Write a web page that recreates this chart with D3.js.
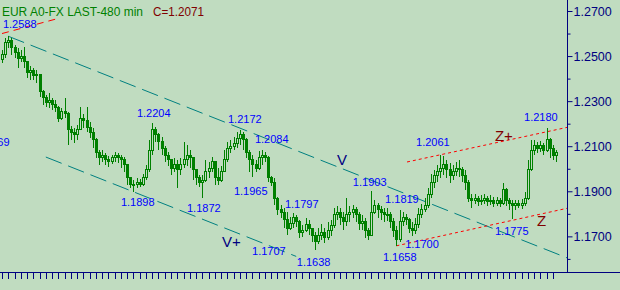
<!DOCTYPE html>
<html>
<head>
<meta charset="utf-8">
<script src="https://cdn.jsdelivr.net/npm/d3@7"></script>
<style>
html, body { margin: 0; padding: 0; background: #c0dcc0; }
svg { display: block; font-family: "Liberation Sans", Arial, sans-serif; }
</style>
</head>
<body>
<div id="chart"></div>
<script>
// --- EUR A0-FX, 480 min bars (open = previous close) ---
const firstOpen = 1.2483;

const closes = [
  1.2505,1.2562,1.2571,1.2536,1.2518,1.2491,1.2500,1.2474,1.2429,1.2438,
  1.2412,1.2420,1.2341,1.2314,1.2296,1.2305,1.2287,1.2270,1.2225,1.2252,
  1.2243,1.2172,1.2163,1.2150,1.2172,1.2225,1.2216,1.2181,1.2163,1.2128,
  1.2074,1.2048,1.2061,1.2039,1.2030,1.2048,1.2057,1.2048,1.2039,1.2017,
  1.1959,1.1932,1.1928,1.1941,1.1932,1.1959,1.1995,1.2083,1.2172,1.2150,
  1.2119,1.2092,1.2061,1.2039,1.2003,1.2017,1.1995,1.2017,1.2039,1.2061,
  1.2048,1.1995,1.1959,1.1941,1.1950,1.1986,1.2003,1.2030,1.1959,1.1950,
  1.1986,1.2039,1.2092,1.2097,1.2114,1.2136,1.2150,1.2128,1.2074,1.2039,
  1.2017,1.2003,1.2048,1.2061,1.2052,1.1959,1.1941,1.1870,1.1817,1.1808,
  1.1773,1.1737,1.1755,1.1782,1.1764,1.1719,1.1728,1.1751,1.1737,1.1702,
  1.1675,1.1706,1.1719,1.1693,1.1728,1.1746,1.1795,1.1808,1.1782,1.1764,
  1.1795,1.1808,1.1817,1.1795,1.1755,1.1764,1.1728,1.1706,1.1808,1.1839,
  1.1817,1.1808,1.1795,1.1799,1.1764,1.1728,1.1684,1.1764,1.1782,1.1773,
  1.1737,1.1728,1.1751,1.1795,1.1817,1.1839,1.1884,1.1941,1.1968,1.1986,
  1.2003,1.2017,1.1995,1.1972,1.1986,1.2003,1.1995,1.1972,1.1941,1.1870,
  1.1861,1.1870,1.1853,1.1861,1.1870,1.1853,1.1861,1.1848,1.1857,1.1844,
  1.1906,1.1861,1.1844,1.1835,1.1848,1.1839,1.1844,1.1870,1.1995,1.2083,
  1.2105,1.2092,1.2101,1.2083,1.2128,1.2092,1.2061,1.2071
];

const highs = [
  1.2527,1.2580,1.2588,1.2580,1.2549,1.2536,1.2527,1.2540,1.2478,1.2456,
  1.2447,1.2438,1.2420,1.2349,1.2327,1.2336,1.2314,1.2305,1.2278,1.2270,
  1.2314,1.2252,1.2190,1.2181,1.2194,1.2274,1.2243,1.2274,1.2208,1.2181,
  1.2136,1.2083,1.2083,1.2070,1.2057,1.2061,1.2074,1.2070,1.2061,1.2052,
  1.2017,1.1959,1.1950,1.1959,1.1954,1.1977,1.2017,1.2128,1.2204,1.2185,
  1.2159,1.2141,1.2101,1.2074,1.2039,1.2048,1.2039,1.2048,1.2119,1.2105,
  1.2083,1.2048,1.1995,1.1972,1.1972,1.2039,1.2030,1.2052,1.2035,1.2003,
  1.2012,1.2083,1.2119,1.2128,1.2141,1.2163,1.2172,1.2163,1.2136,1.2083,
  1.2061,1.2039,1.2079,1.2084,1.2074,1.2057,1.1968,1.1959,1.1875,1.1839,
  1.1826,1.1808,1.1786,1.1804,1.1797,1.1773,1.1751,1.1782,1.1773,1.1737,
  1.1719,1.1737,1.1755,1.1737,1.1764,1.1773,1.1826,1.1835,1.1826,1.1808,
  1.1870,1.1835,1.1839,1.1830,1.1808,1.1795,1.1782,1.1737,1.1903,1.1861,
  1.1848,1.1835,1.1826,1.1826,1.1808,1.1782,1.1746,1.1819,1.1808,1.1799,
  1.1782,1.1764,1.1782,1.1826,1.1844,1.1870,1.1915,1.1977,1.1995,1.2017,
  1.2061,1.2057,1.2039,1.2026,1.2017,1.2030,1.2039,1.2008,1.1995,1.1950,
  1.1888,1.1888,1.1879,1.1884,1.1888,1.1879,1.1884,1.1875,1.1875,1.1870,
  1.1937,1.1915,1.1870,1.1861,1.1861,1.1861,1.1866,1.1897,1.2039,1.2128,
  1.2128,1.2119,1.2123,1.2114,1.2180,1.2136,1.2105,1.2083
];

const lows = [
  1.2469,1.2491,1.2536,1.2505,1.2491,1.2447,1.2474,1.2447,1.2403,1.2394,
  1.2394,1.2380,1.2318,1.2283,1.2274,1.2270,1.2261,1.2252,1.2208,1.2216,
  1.2225,1.2105,1.2128,1.2114,1.2128,1.2172,1.2181,1.2163,1.2136,1.2092,
  1.2048,1.2017,1.2030,1.2017,1.2008,1.2021,1.2030,1.2026,1.2003,1.1986,
  1.1928,1.1915,1.1898,1.1915,1.1919,1.1924,1.1950,1.1986,1.2061,1.2119,
  1.2083,1.2061,1.2030,1.2012,1.1972,1.1986,1.1915,1.1972,1.2003,1.2012,
  1.2003,1.1950,1.1928,1.1919,1.1872,1.1941,1.1959,1.1986,1.1928,1.1928,
  1.1941,1.1995,1.2030,1.2070,1.2083,1.2092,1.2105,1.2083,1.2048,1.1986,
  1.1965,1.1986,1.1995,1.2017,1.2030,1.1941,1.1924,1.1839,1.1795,1.1782,
  1.1737,1.1707,1.1728,1.1737,1.1742,1.1693,1.1697,1.1719,1.1706,1.1675,
  1.1638,1.1666,1.1684,1.1671,1.1684,1.1702,1.1737,1.1773,1.1751,1.1728,
  1.1746,1.1764,1.1782,1.1764,1.1728,1.1728,1.1693,1.1684,1.1702,1.1799,
  1.1782,1.1773,1.1764,1.1768,1.1737,1.1697,1.1658,1.1675,1.1746,1.1751,
  1.1715,1.1700,1.1711,1.1737,1.1782,1.1808,1.1826,1.1870,1.1915,1.1941,
  1.1959,1.1972,1.1959,1.1937,1.1950,1.1968,1.1963,1.1941,1.1906,1.1853,
  1.1826,1.1844,1.1835,1.1839,1.1844,1.1835,1.1839,1.1830,1.1835,1.1830,
  1.1839,1.1835,1.1817,1.1775,1.1817,1.1826,1.1821,1.1835,1.1861,1.1990,
  1.2061,1.2070,1.2074,1.2061,1.2074,1.2048,1.2039,1.2030
];

// price axis
const majorTicks = [1.27, 1.25, 1.23, 1.21, 1.19, 1.17];
const minorTicks = [1.26, 1.24, 1.22, 1.20, 1.18, 1.16];

// trend lines: [bar, price] end points
const channelLines = [
  [[2, 1.2588], [181, 1.1602]],    // V
  [[14, 1.2052], [94, 1.1611]]     // V+
];
const zoneLines = [
  [[129.4, 1.2030], [181, 1.2185]], // Z+
  [[126, 1.1658], [181, 1.1826]]    // Z
];
const oldZoneLine = [[0, 1.2600], [18.5, 1.2669]]; // top left

// pivot price labels: [text, bar, price]
const priceLabels = [
  ['1.2588', 0.3, 1.2642],
  ['1.2204', 43.1, 1.2247],
  ['1.2172', 72.2, 1.2221],
  ['1.2084', 80.8, 1.2132],
  ['1.1965', 74.1, 1.1901],
  ['1.1898', 38.0, 1.1853],
  ['1.1872', 59.1, 1.1826],
  ['1.1797', 90.4, 1.1844],
  ['1.1903', 112.1, 1.1941],
  ['1.1819', 122.4, 1.1866],
  ['1.2061', 132.3, 1.2119],
  ['1.2180', 166.8, 1.2230],
  ['1.1707', 79.9, 1.1635],
  ['1.1638', 94.2, 1.1586],
  ['1.1658', 121.7, 1.1609],
  ['1.1700', 128.8, 1.1666],
  ['1.1775', 157.5, 1.1724]
];
const cutLabel = ['1.2169', 2.4, 1.2119]; // runs off the left edge

const channelNames = [['V', 107.0, 1.2039], ['V+', 70.3, 1.1675]];
const zoneNames = [['Z+', 157.5, 1.2145], ['Z', 170.9, 1.1768]];

const titleText = 'EUR A0-FX LAST-480 min';
const lastText = 'C=1.2071';

// ============================================
const W = 620, H = 290;
const axisX = 567, axisY = 272;
const bg = '#c0dcc0', green = '#008000', navy = '#000080';

const svg = d3.select('#chart').append('svg')
  .attr('width', W).attr('height', H);

svg.append('rect').attr('width', W).attr('height', H).attr('fill', bg);

const x = d3.scaleLinear().domain([0, closes.length - 1]).range([2, 556]);
const y = d3.scaleLinear().domain([1.16, 1.27]).range([258.9, 11]);

svg.append('clipPath').attr('id', 'plot')
  .append('rect').attr('width', axisX).attr('height', axisY);

const plot = svg.append('g').attr('clip-path', 'url(#plot)');

const line = d3.line().x(d => x(d[0])).y(d => y(d[1]));

// channel V / V+
plot.selectAll('path.chan').data(channelLines).join('path')
  .attr('class', 'chan')
  .attr('d', line)
  .attr('fill', 'none')
  .attr('stroke', '#008080')
  .attr('stroke-width', 1)
  .attr('stroke-dasharray', '17,7');

// zone Z / Z+
plot.selectAll('path.zone').data(zoneLines).join('path')
  .attr('class', 'zone')
  .attr('d', line)
  .attr('fill', 'none')
  .attr('stroke', '#ff0000')
  .attr('stroke-width', 1)
  .attr('stroke-dasharray', '3,3');

plot.append('path')
  .attr('d', line(oldZoneLine))
  .attr('fill', 'none')
  .attr('stroke', '#ff0000')
  .attr('stroke-width', 1)
  .attr('stroke-dasharray', '7,5');

// candles
const bars = closes.map((c, i) => ({
  i, o: i ? closes[i - 1] : firstOpen, h: highs[i], l: lows[i], c
}));

const candle = plot.append('g').attr('shape-rendering', 'crispEdges')
  .selectAll('g').data(bars).join('g');

candle.append('line')
  .attr('x1', d => Math.round(x(d.i)) + 0.5)
  .attr('x2', d => Math.round(x(d.i)) + 0.5)
  .attr('y1', d => y(d.h))
  .attr('y2', d => y(d.l))
  .attr('stroke', green);

candle.append('rect')
  .attr('x', d => Math.round(x(d.i)) - 0.5)
  .attr('width', 2)
  .attr('y', d => y(Math.max(d.o, d.c)))
  .attr('height', d => Math.max(1, Math.abs(y(d.o) - y(d.c))))
  .attr('fill', d => d.c > d.o ? bg : green)
  .attr('stroke', green)
  .attr('stroke-width', 1);

// labels
plot.selectAll('text.pl').data(priceLabels).join('text')
  .attr('class', 'pl')
  .attr('x', d => x(d[1]))
  .attr('y', d => y(d[2]))
  .attr('dy', '0.35em')
  .attr('font-size', 11)
  .attr('fill', '#0000ff')
  .text(d => d[0]);

plot.append('text')
  .attr('x', x(cutLabel[1]))
  .attr('y', y(cutLabel[2]))
  .attr('dy', '0.35em')
  .attr('text-anchor', 'end')
  .attr('font-size', 11)
  .attr('fill', '#0000ff')
  .text(cutLabel[0]);

plot.selectAll('text.cn').data(channelNames).join('text')
  .attr('class', 'cn')
  .attr('x', d => x(d[1]))
  .attr('y', d => y(d[2]))
  .attr('dy', '0.35em')
  .attr('font-size', 15)
  .attr('fill', navy)
  .text(d => d[0]);

plot.selectAll('text.zn').data(zoneNames).join('text')
  .attr('class', 'zn')
  .attr('x', d => x(d[1]))
  .attr('y', d => y(d[2]))
  .attr('dy', '0.35em')
  .attr('font-size', 15)
  .attr('fill', '#800000')
  .text(d => d[0]);

// title
svg.append('text').attr('x', 2).attr('y', 16)
  .attr('font-size', 12.5).attr('fill', green)
  .attr('textLength', 141).attr('lengthAdjust', 'spacingAndGlyphs')
  .text(titleText);
svg.append('text').attr('x', 153).attr('y', 16)
  .attr('font-size', 12.5).attr('fill', '#800000')
  .attr('textLength', 51).attr('lengthAdjust', 'spacingAndGlyphs')
  .text(lastText);

// --- AXES ---
const yAxis = svg.append('g')
  .attr('transform', `translate(${axisX + 0.5},0)`)
  .call(d3.axisRight(y).tickValues(majorTicks).tickSize(5).tickPadding(1)
    .tickFormat(d3.format('.4f')));
yAxis.select('.domain').remove();
yAxis.selectAll('line').attr('stroke', navy);
yAxis.selectAll('text').attr('fill', navy).attr('font-size', 12.5)
  .attr('font-family', '"Liberation Sans", Arial, sans-serif');

const yMinor = svg.append('g')
  .attr('transform', `translate(${axisX + 0.5},0)`)
  .call(d3.axisRight(y).tickValues(minorTicks).tickSize(3).tickFormat(''));
yMinor.select('.domain').remove();
yMinor.selectAll('line').attr('stroke', navy);

const xAxis = svg.append('g')
  .attr('transform', `translate(0,${axisY + 0.5})`)
  .attr('shape-rendering', 'crispEdges')
  .call(d3.axisBottom(x).tickValues(d3.range(0, closes.length, 2))
    .tickSize(6).tickFormat(''));
xAxis.select('.domain').remove();
xAxis.selectAll('line').attr('stroke', navy);

svg.append('line').attr('x1', 0).attr('x2', W)
  .attr('y1', axisY + 0.5).attr('y2', axisY + 0.5)
  .attr('stroke', navy);
svg.append('line').attr('x1', axisX + 0.5).attr('x2', axisX + 0.5)
  .attr('y1', 0).attr('y2', axisY + 0.5)
  .attr('stroke', navy);
</script>
</body>
</html>
